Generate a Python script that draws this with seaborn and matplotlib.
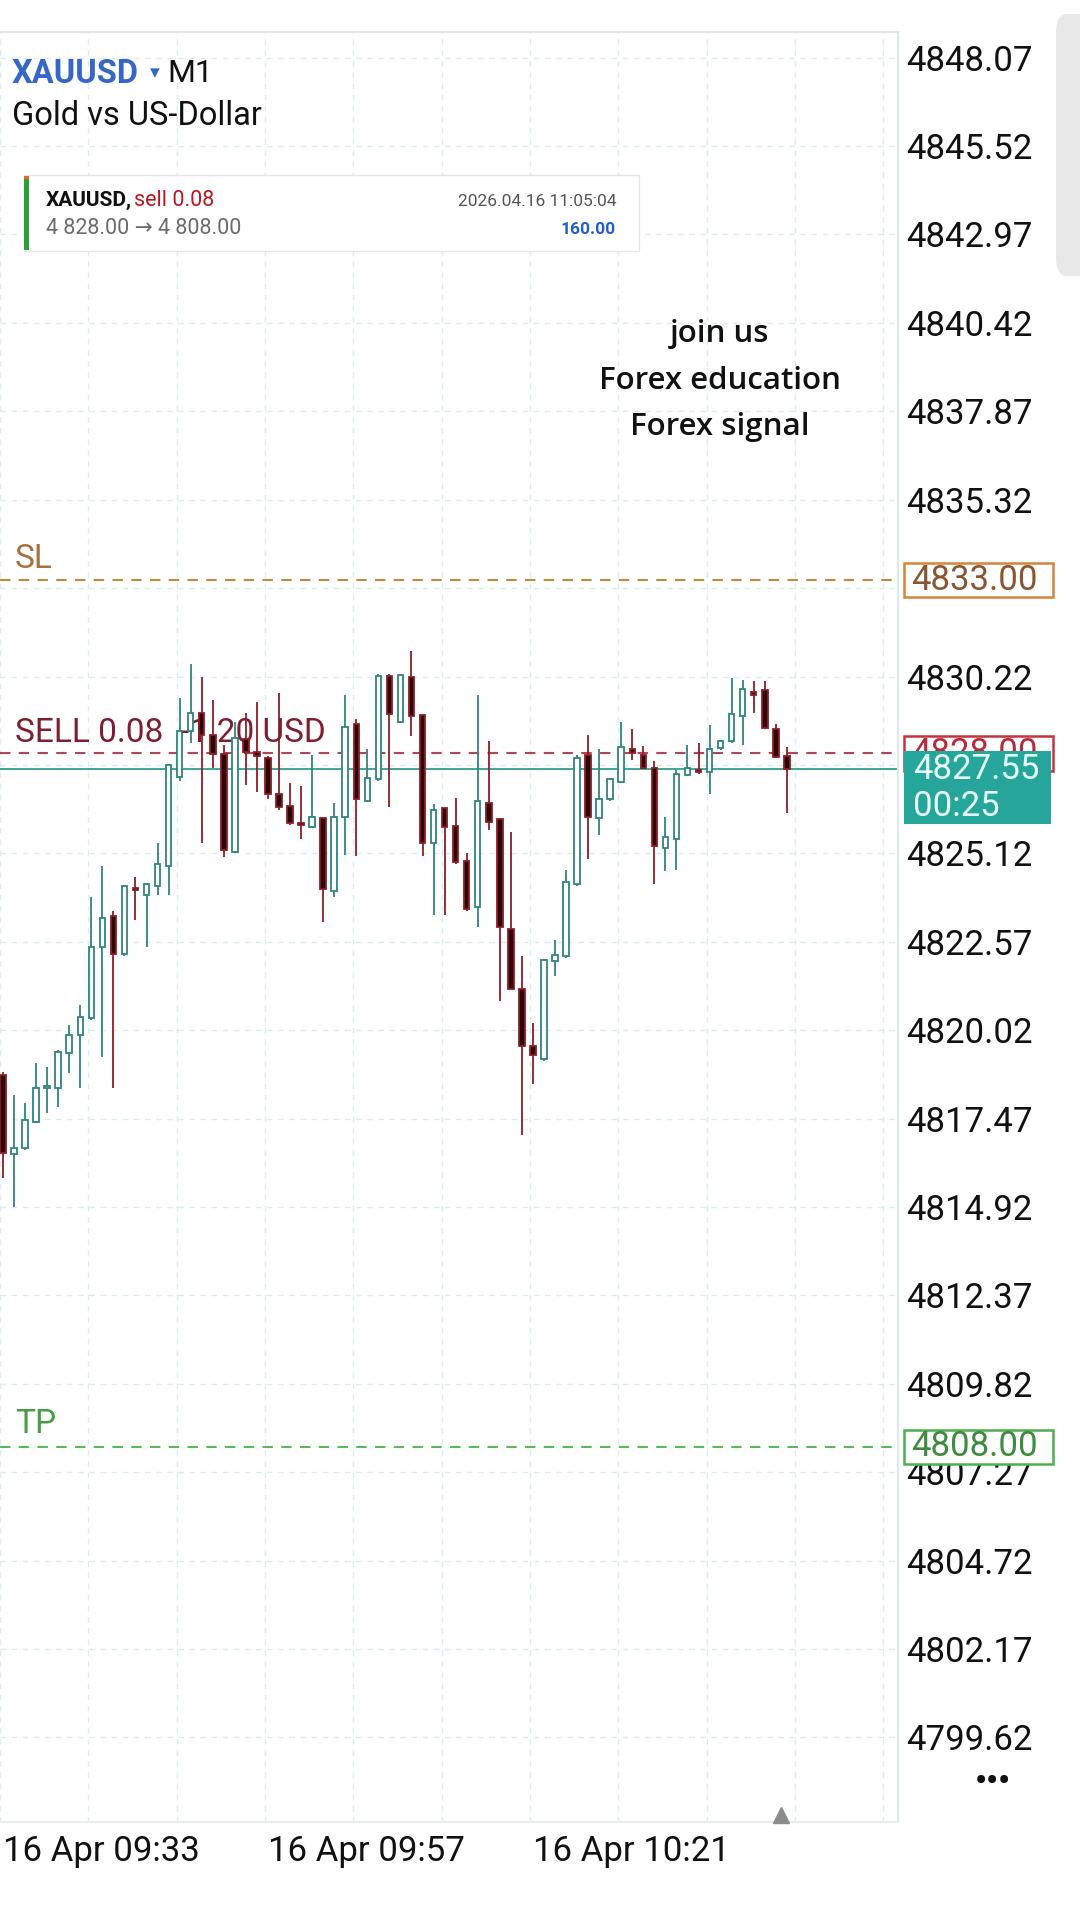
import matplotlib
matplotlib.use("Agg")
import matplotlib.pyplot as plt
import matplotlib.transforms as mtransforms
from matplotlib.patches import Rectangle, FancyBboxPatch
import seaborn as sns
import numpy as np

# --- candle data (XAUUSD M1) ---
opens = [4818.73, 4816.45, 4816.61, 4817.38, 4818.35, 4818.34, 4819.35, 4819.88, 4820.36, 4822.41,
         4823.30, 4822.21, 4824.12, 4823.92, 4824.18, 4824.76, 4827.33, 4828.66, 4829.18, 4828.53,
         4827.98, 4825.17, 4828.43, 4828.03, 4827.88, 4826.84, 4826.49, 4825.98, 4825.87, 4826.13,
         4824.03, 4826.16, 4828.85, 4826.63, 4827.25, 4830.24, 4828.92, 4830.22, 4829.10, 4825.43,
         4826.42, 4825.90, 4824.91, 4823.56, 4826.58, 4826.11, 4822.93, 4821.22, 4819.55, 4819.19,
         4822.02, 4822.16, 4824.24, 4827.95, 4826.14, 4826.68, 4827.18, 4828.14, 4827.95, 4827.57,
         4825.28, 4825.54, 4827.39, 4827.53, 4827.46, 4828.16, 4828.35, 4829.08, 4829.78, 4829.82,
         4828.71, 4827.93]
highs = [4818.80, 4818.15, 4817.91, 4819.06, 4818.97, 4819.45, 4820.17, 4820.75, 4823.87, 4824.76,
         4823.46, 4824.20, 4824.44, 4824.27, 4825.43, 4827.70, 4829.60, 4830.58, 4830.22, 4829.54,
         4828.24, 4828.92, 4829.18, 4829.49, 4827.93, 4829.75, 4827.15, 4827.05, 4827.95, 4826.15,
         4826.58, 4829.70, 4829.00, 4828.14, 4830.30, 4830.30, 4830.30, 4830.95, 4829.10, 4826.53,
         4826.42, 4826.73, 4825.12, 4829.70, 4828.35, 4826.15, 4825.74, 4822.15, 4820.23, 4822.08,
         4822.62, 4824.65, 4827.95, 4828.53, 4828.14, 4827.30, 4828.92, 4828.72, 4828.22, 4827.77,
         4826.16, 4827.51, 4828.24, 4828.30, 4828.82, 4828.40, 4830.17, 4830.12, 4830.10, 4830.10,
         4828.85, 4828.19]
lows = [4815.75, 4814.93, 4816.55, 4817.33, 4817.62, 4817.81, 4818.78, 4818.34, 4820.30, 4819.24,
        4818.36, 4822.15, 4823.20, 4822.41, 4823.92, 4823.92, 4827.20, 4828.30, 4825.43, 4827.57,
        4825.00, 4825.12, 4827.10, 4826.89, 4826.68, 4826.37, 4825.95, 4825.54, 4825.85, 4823.14,
        4823.87, 4825.07, 4825.04, 4826.60, 4827.20, 4826.47, 4828.87, 4828.50, 4825.04, 4823.35,
        4823.35, 4824.81, 4823.46, 4822.99, 4825.80, 4820.85, 4821.20, 4817.00, 4818.46, 4819.14,
        4821.58, 4822.10, 4824.19, 4824.96, 4825.64, 4826.63, 4827.15, 4827.82, 4827.54, 4824.24,
        4824.60, 4824.65, 4827.36, 4827.41, 4826.84, 4828.10, 4828.30, 4828.24, 4829.18, 4828.70,
        4827.88, 4826.28]
closes = [4816.47, 4816.61, 4817.43, 4818.34, 4818.40, 4819.40, 4819.88, 4820.41, 4822.42, 4823.25,
          4822.23, 4824.18, 4824.05, 4824.24, 4824.81, 4827.67, 4828.66, 4829.18, 4828.53, 4827.98,
          4825.22, 4828.45, 4828.03, 4827.93, 4826.84, 4826.47, 4826.00, 4825.93, 4826.16, 4824.08,
          4826.16, 4828.76, 4826.68, 4827.30, 4830.24, 4829.13, 4830.27, 4829.08, 4825.43, 4826.37,
          4825.87, 4824.86, 4823.51, 4826.63, 4826.01, 4822.99, 4821.22, 4819.55, 4819.31, 4822.05,
          4822.19, 4824.29, 4827.88, 4826.16, 4826.68, 4827.25, 4828.19, 4828.00, 4827.57, 4825.33,
          4825.59, 4827.41, 4827.57, 4827.46, 4828.14, 4828.35, 4829.13, 4829.86, 4829.70, 4828.74,
          4827.91, 4827.55]

price_ticks = [4848.07, 4845.52, 4842.97, 4840.42, 4837.87, 4835.32, 4832.77, 4830.22, 4827.67, 4825.12,
               4822.57, 4820.02, 4817.47, 4814.92, 4812.37, 4809.82, 4807.27, 4804.72, 4802.17, 4799.62]
# labels covered by the SL box and the live price box in the app
hidden_ticks = [4832.77, 4827.67]
time_tick_idx = [0, 24, 48]
time_tick_labels = ["16 Apr 09:33", "16 Apr 09:57", "16 Apr 10:21"]

sl_price = 4833.00
entry_price = 4828.00
tp_price = 4808.00
timer_text = "00:25"

sns.set_theme(style="white")
plt.rcParams['font.family'] = ['Roboto', 'DejaVu Sans']

W, H = 1080, 1920
fig = plt.figure(figsize=(W / 100, H / 100), dpi=100)
fig.patch.set_facecolor('white')

def fx(x):
    return x / W

def fy(y):
    return 1 - y / H

# chart area
ax = fig.add_axes([0, fy(1822), fx(898), (1822 - 32) / H])
ax.set_facecolor('white')
ax.set_xlim(-0.27, 81.07)
ax.set_ylim(4797.18, 4848.81)

grid_col = '#dcebee'
for p in price_ticks:
    ax.axhline(p, color=grid_col, lw=1, ls=(0, (4, 4)), zorder=0)
for k in range(0, 11):
    ax.axvline(8 * k - 0.27, color=grid_col, lw=1, ls=(0, (4, 4)), zorder=0)

n = len(opens)
idx = np.arange(n)
o = np.array(opens)
c = np.array(closes)
bull = c >= o

bull_col = '#2f847d'
bear_edge = '#8e1d27'
bear_fill = '#2a0808'

# wicks
ax.vlines(idx[bull], np.array(lows)[bull], np.array(highs)[bull], color=bull_col, lw=1.3, zorder=3)
ax.vlines(idx[~bull], np.array(lows)[~bull], np.array(highs)[~bull], color=bear_edge, lw=1.3, zorder=3)

# bodies
body_h = np.maximum(np.abs(c - o), 0.06)
body_b = np.minimum(o, c)
ax.bar(idx[bull], body_h[bull], bottom=body_b[bull], width=0.5, color='white',
       edgecolor=bull_col, linewidth=1.3, zorder=4)
ax.bar(idx[~bull], body_h[~bull], bottom=body_b[~bull], width=0.5, color=bear_fill,
       edgecolor=bear_edge, linewidth=1.3, zorder=4)

# order levels
ax.axhline(sl_price, color='#bf8a3d', lw=1.5, ls=(0, (5, 4)), zorder=2)
ax.axhline(entry_price, color='#b04656', lw=1.5, ls=(0, (5, 4)), zorder=2)
ax.axhline(tp_price, color='#5cb65a', lw=1.5, ls=(0, (5, 4)), zorder=2)
ax.axhline(closes[-1], color='#3ea597', lw=1.4, zorder=2)

bt = mtransforms.blended_transform_factory(ax.transAxes, ax.transData)
ax.text(15 / 898, sl_price + 0.6, "SL", transform=bt,
        color='#a8703c', fontsize=24, va='center', ha='left', zorder=1)
ax.text(15 / 898, tp_price + 0.66, "TP", transform=bt,
        color='#4a9c46', fontsize=24, va='center', ha='left', zorder=1)
ax.text(15 / 898, entry_price + 0.6, "SELL 0.08  -1.20 USD", transform=bt,
        color='#7e1f2f', fontsize=24, va='center', ha='left', zorder=1)

# axes ticks
ax.yaxis.tick_right()
ax.set_yticks(price_ticks)
ax.set_yticklabels(["" if p in hidden_ticks else f"{p:.2f}" for p in price_ticks])
ax.tick_params(axis='y', length=0, pad=6, labelsize=25, labelcolor='#111111')
ax.set_xticks(time_tick_idx)
ax.set_xticklabels(time_tick_labels, ha='left')
ax.tick_params(axis='x', length=0, pad=9, labelsize=25, labelcolor='#111111')
for lbl in ax.get_xticklabels():
    lbl.set_horizontalalignment('left')

ax.spines['left'].set_visible(False)
ax.spines['top'].set_color('#e4e4e4')
ax.spines['right'].set_color('#dfe8ea')
ax.spines['bottom'].set_color('#e8eef0')
for s in ['top', 'right', 'bottom']:
    ax.spines[s].set_linewidth(1.5)

# right-side price boxes
bx0 = 904 / 898
bw = 149 / 898
half = 0.5

def price_box(price, edge, txt_col, z):
    ax.add_patch(Rectangle((bx0, price - half), bw, 2 * half, transform=bt, clip_on=False,
                           facecolor='white', edgecolor=edge, lw=1.8, zorder=z))
    ax.text(bx0 + 7 / 898, price, f"{price:.2f}", transform=bt, clip_on=False, ha='left',
            va='center', fontsize=25, color=txt_col, zorder=z + 0.1)

price_box(sl_price, '#d4843c', '#8a5632', 6)
price_box(entry_price, '#c8323f', '#b82a38', 6)
price_box(tp_price, '#4caf50', '#3d8b3d', 6)

cur = closes[-1]
ax.add_patch(Rectangle((bx0, cur - 1.59), 147 / 898, 2.11, transform=bt, clip_on=False,
                       facecolor='#26a69a', edgecolor='none', zorder=8))
ax.text(bx0 + 9 / 898, cur, f"{cur:.2f}", transform=bt, clip_on=False, ha='left', va='center',
        fontsize=25, color='#e6fffa', zorder=9)
ax.text(bx0 + 9 / 898, cur - 1.07, timer_text, transform=bt, clip_on=False, ha='left', va='center',
        fontsize=25, color='#e6fffa', zorder=9)

# small marker under the last bar
ax.plot([n - 1.5], [0.004], marker='^', markersize=11, color='#8c8c8c',
        transform=mtransforms.blended_transform_factory(ax.transData, ax.transAxes), clip_on=False, zorder=9)

# header texts
fig.text(fx(12), fy(74), "XAUUSD", color='#3566c8', fontsize=23.5, fontweight='bold', va='center', ha='left')
fig.text(fx(150), fy(73), "▾", color='#3566c8', fontsize=14, va='center', ha='left',
         family=['DejaVu Sans'])
fig.text(fx(167), fy(74), "M1", color='#111111', fontsize=23, va='center', ha='left')
fig.text(fx(12), fy(116), "Gold vs US-Dollar", color='#111111', fontsize=23.5, va='center', ha='left')

# trade info card
fig.patches.append(Rectangle((fx(24), fy(251)), fx(615), (251 - 175) / H, transform=fig.transFigure,
                             facecolor='white', edgecolor='#e6e6e6', lw=1, zorder=1))
fig.patches.append(Rectangle((fx(24), fy(250)), fx(5), (250 - 176) / H, transform=fig.transFigure,
                             facecolor='#2e9e3a', edgecolor='none', zorder=2))
fig.patches.append(Rectangle((fx(24), fy(179)), fx(5), 3 / H, transform=fig.transFigure,
                             facecolor='#e06a20', edgecolor='none', zorder=3))
fig.text(fx(46), fy(200), "XAUUSD,", color='#111111', fontsize=15, fontweight='bold', va='center', ha='left')
fig.text(fx(134), fy(200), "sell 0.08", color='#c0141e', fontsize=15.5, va='center', ha='left')
fig.text(fx(46), fy(228), "4 828.00 → 4 808.00", color='#6b6b6b', fontsize=15.5, va='center', ha='left')
fig.text(fx(616), fy(201), "2026.04.16 11:05:04", color='#555555', fontsize=12.5, va='center', ha='right')
fig.text(fx(616), fy(229), "160.00", color='#1f5fd0', fontsize=12.5, fontweight='bold', va='center', ha='right')

# promo text
for t, yy in zip(["join us", "Forex education", "Forex signal"], [334, 381, 427]):
    fig.text(fx(720), fy(yy), t, color='#111111', fontsize=22.5, va='center', ha='center',
             family=['Open Sans', 'DejaVu Sans'], fontweight='semibold')

# scrollbar stub and menu dots
fig.patches.append(FancyBboxPatch((fx(1056), fy(276)), fx(40), (276 - 14) / H, transform=fig.transFigure,
                                  boxstyle='round,pad=0,rounding_size=0.01', facecolor='#e8e8e8',
                                  edgecolor='none', zorder=1))
fig.text(fx(993), fy(1782), "•••", color='#111111', fontsize=24, fontweight='bold', va='center', ha='center')

fig.savefig("out.png", dpi=100)
